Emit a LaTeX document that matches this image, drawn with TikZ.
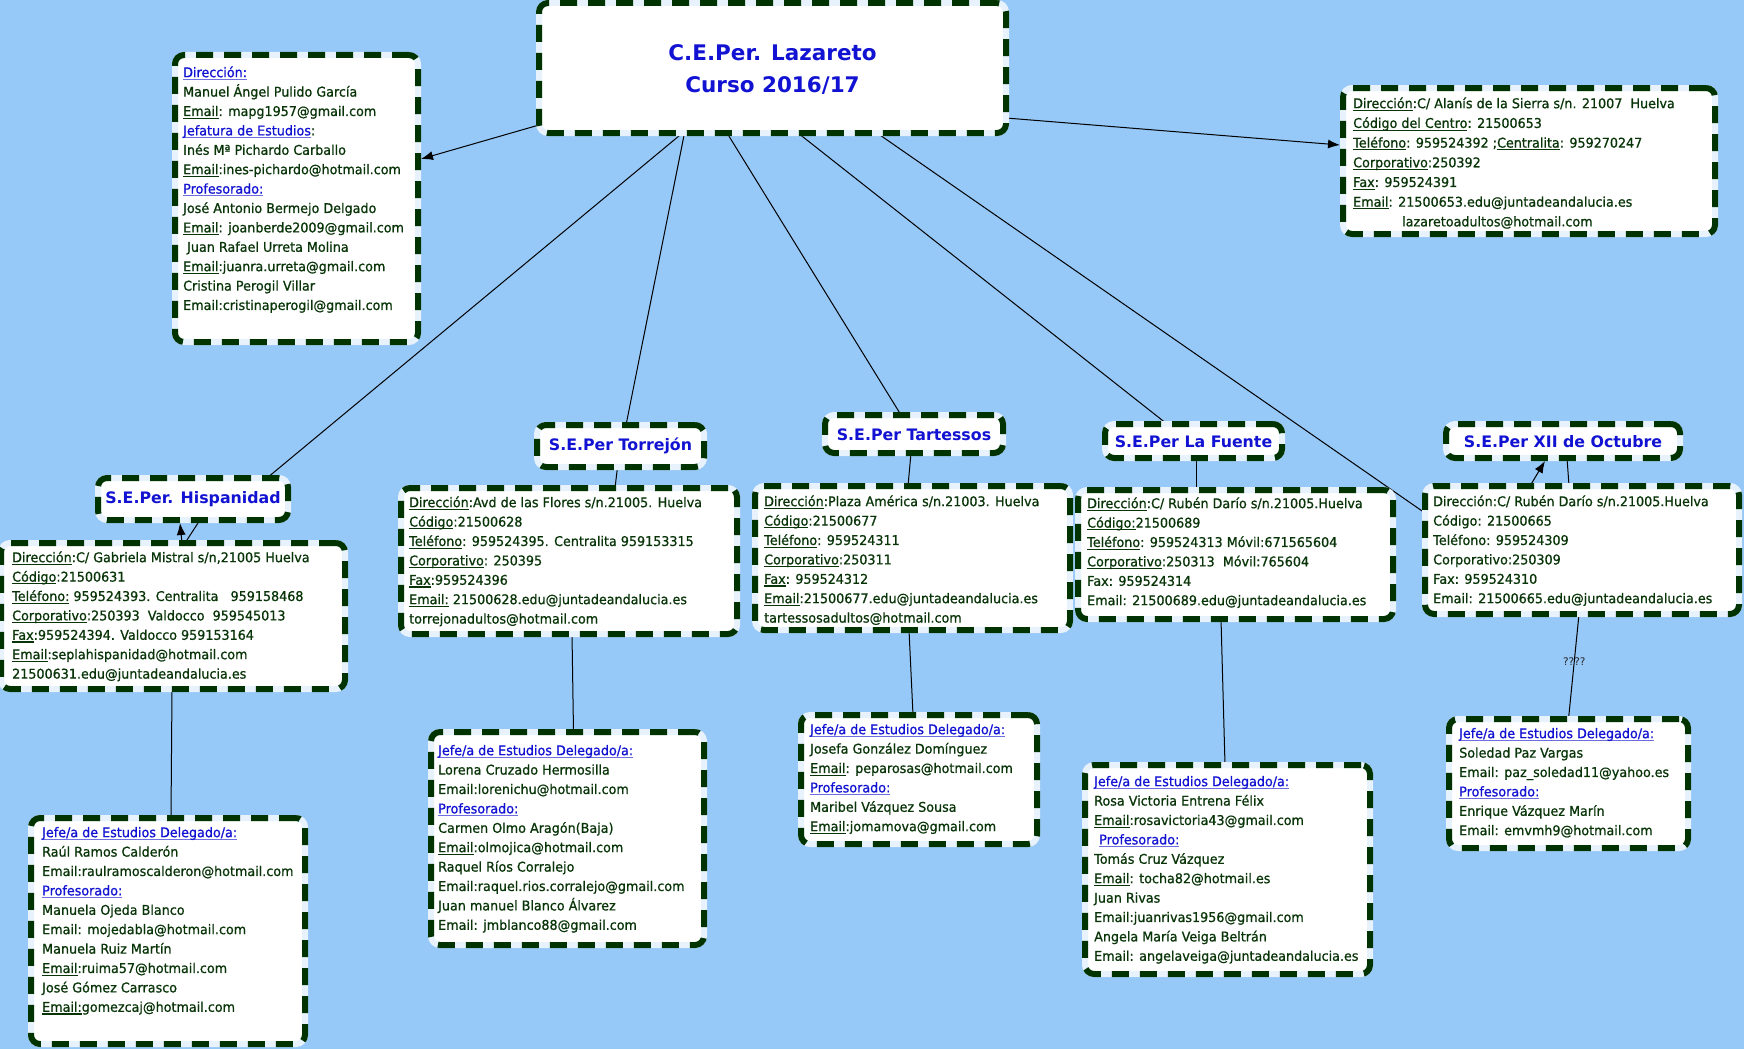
\documentclass[tikz,border=0pt]{standalone}
\usepackage{fontspec}
\setmainfont{DejaVu Sans}
\newfontfamily\bodyfont{DejaVu Sans}[FakeBold=0.8, FakeStretch=0.95]
\usetikzlibrary{arrows.meta,backgrounds}
\definecolor{bgblue}{RGB}{150,200,248}
\definecolor{bgreen}{RGB}{0,51,0}
\definecolor{tgreen}{RGB}{8,52,8}
\definecolor{hblue}{RGB}{18,18,210}
\definecolor{ulblue}{RGB}{110,110,225}
\definecolor{gapc}{RGB}{232,242,253}
\newsavebox\ulbox
\newcommand\lbl[1]{\sbox\ulbox{#1}\rlap{\textcolor{tgreen}{\rule[-2.8pt]{\wd\ulbox}{1.1pt}}}\usebox\ulbox}
\newcommand\hdr[1]{\sbox\ulbox{\textcolor{hblue}{#1}}\rlap{\textcolor{ulblue}{\rule[-2.8pt]{\wd\ulbox}{1.1pt}}}\usebox\ulbox}
\tikzset{
  box/.style={rectangle, rounded corners=9pt, fill=white, draw=gapc, line width=6pt,
    inner sep=0pt, outer sep=0pt,
    postaction={draw=bgreen, line width=6pt, rounded corners=9pt, dash pattern=on 17pt off 11pt}},
  txt/.style={anchor=north west, inner sep=0pt, align=left, text=tgreen,
    font=\bodyfont\fontsize{13.4}{19.4}\selectfont},
  ttl/.style={anchor=base, inner sep=0pt, text=hblue, font=\fontsize{15.8}{19}\selectfont\bfseries},
  conn/.style={draw=black, line width=1pt},
  arr/.style={conn, -{Latex[length=12pt,width=9pt]}}
}
\begin{document}
\begin{tikzpicture}[x=1pt,y=-1pt]
\useasboundingbox (0,0) rectangle (1744,1049);
% ---------- main box
\node[box, minimum width=467pt, minimum height=130pt] (top) at (772.5,68) {};
\node[anchor=north, inner sep=0pt, align=center, text=hblue,
  font=\fontsize{21.5}{32}\selectfont\bfseries] (topt) at (772.5,37.6)
  {\strut C.E.Per. Lazareto\\Curso 2016/17};
% ---------- direction box (left)
\node[box, minimum width=243pt, minimum height=287pt] (dir) at (296.5,198.5) {};
\node[txt] (dirt) at (183,63.4) {\strut\hdr{Dirección:}\\
Manuel Ángel Pulido García\\
\lbl{Email}: mapg1957@gmail.com\\
\hdr{Jefatura de Estudios}:\\
Inés Mª Pichardo Carballo\\
\lbl{Email}:ines-pichardo@hotmail.com\\
\hdr{Profesorado:}\\
José Antonio Bermejo Delgado\\
\lbl{Email}: joanberde2009@gmail.com\\
\hspace*{4pt}Juan Rafael Urreta Molina\\
\lbl{Email}:juanra.urreta@gmail.com\\
Cristina Perogil Villar\\
Email:cristinaperogil@gmail.com};
% ---------- info box (right)
\node[box, minimum width=372pt, minimum height=146pt] (info) at (1529,161) {};
\node[txt, font=\bodyfont\fontsize{13.4}{19.7}\selectfont] (infot) at (1353,94.2) {\strut\lbl{Dirección}:C/ Alanís de la Sierra s/n. 21007\ \ Huelva\\
\lbl{Código del Centro}: 21500653\\
\lbl{Teléfono}: 959524392 ;\lbl{Centralita}: 959270247\\
\lbl{Corporativo}:250392\\
\lbl{Fax}: 959524391\\
\lbl{Email}: 21500653.edu@juntadeandalucia.es\\
\hspace*{49pt}lazaretoadultos@hotmail.com};
% ---------- Hispanidad
\node[box, minimum width=190pt, minimum height=42pt] (hisT) at (193,499) {};
\node[ttl] (hisTt) at (193,503) {S.E.Per. Hispanidad};
\node[box, minimum width=344pt, minimum height=146pt] (hisI) at (173,616) {};
\node[txt] (hisIt) at (12,548.4) {\strut\lbl{Dirección}:C/ Gabriela Mistral s/n,21005 Huelva\\
\lbl{Código}:21500631\\
\lbl{Teléfono:} 959524393. Centralita\ \ \ 959158468\\
\lbl{Corporativo}:250393\ \ Valdocco\ \ 959545013\\
\lbl{Fax}:959524394. Valdocco 959153164\\
\lbl{Email}:seplahispanidad@hotmail.com\\
21500631.edu@juntadeandalucia.es};
\node[box, minimum width=274pt, minimum height=226pt] (hisJ) at (168,931) {};
\node[txt] (hisJt) at (42,823.4) {\strut\hdr{Jefe/a de Estudios Delegado/a:}\\
Raúl Ramos Calderón\\
Email:raulramoscalderon@hotmail.com\\
\hdr{Profesorado:}\\
Manuela Ojeda Blanco\\
Email: mojedabla@hotmail.com\\
Manuela Ruiz Martín\\
\lbl{Email}:ruima57@hotmail.com\\
José Gómez Carrasco\\
\lbl{Email:}gomezcaj@hotmail.com};
% ---------- Torrejon
\node[box, minimum width=167pt, minimum height=42pt] (torT) at (620.5,446) {};
\node[ttl] (torTt) at (620.5,450) {S.E.Per Torrejón};
\node[box, minimum width=336pt, minimum height=146pt] (torI) at (569,561) {};
\node[txt] (torIt) at (409,493.4) {\strut\lbl{Dirección}:Avd de las Flores s/n.21005. Huelva\\
\lbl{Código}:21500628\\
\lbl{Teléfono}: 959524395. Centralita 959153315\\
\lbl{Corporativo}: 250395\\
\lbl{Fax}:959524396\\
\lbl{Email:} 21500628.edu@juntadeandalucia.es\\
torrejonadultos@hotmail.com};
\node[box, minimum width=273pt, minimum height=213pt] (torJ) at (567.5,838.5) {};
\node[txt] (torJt) at (438,741.4) {\strut\hdr{Jefe/a de Estudios Delegado/a:}\\
Lorena Cruzado Hermosilla\\
Email:lorenichu@hotmail.com\\
\hdr{Profesorado:}\\
Carmen Olmo Aragón(Baja)\\
\lbl{Email}:olmojica@hotmail.com\\
Raquel Ríos Corralejo\\
Email:raquel.rios.corralejo@gmail.com\\
Juan manuel Blanco Álvarez\\
Email: jmblanco88@gmail.com};
% ---------- Tartessos
\node[box, minimum width=178pt, minimum height=38pt] (tarT) at (914,434) {};
\node[ttl] (tarTt) at (914,440) {S.E.Per Tartessos};
\node[box, minimum width=315pt, minimum height=144pt] (tarI) at (912.5,558) {};
\node[txt] (tarIt) at (764,492.4) {\strut\lbl{Dirección}:Plaza América s/n.21003. Huelva\\
\lbl{Código}:21500677\\
\lbl{Teléfono}: 959524311\\
\lbl{Corporativo}:250311\\
\lbl{Fax}: 959524312\\
\lbl{Email}:21500677.edu@juntadeandalucia.es\\
tartessosadultos@hotmail.com};
\node[box, minimum width=236pt, minimum height=129pt] (tarJ) at (919,779.5) {};
\node[txt] (tarJt) at (810,720.4) {\strut\hdr{Jefe/a de Estudios Delegado/a:}\\
Josefa González Domínguez\\
\lbl{Email}: peparosas@hotmail.com\\
\hdr{Profesorado:}\\
Maribel Vázquez Sousa\\
\lbl{Email}:jomamova@gmail.com};
% ---------- La Fuente
\node[box, minimum width=177pt, minimum height=34pt] (fueT) at (1193.5,441) {};
\node[ttl] (fueTt) at (1193.5,447) {S.E.Per La Fuente};
\node[box, minimum width=315pt, minimum height=129pt] (fueI) at (1235.5,554.5) {};
\node[txt] (fueIt) at (1087,494.4) {\strut\lbl{Dirección}:C/ Rubén Darío s/n.21005.Huelva\\
\lbl{Código:}21500689\\
\lbl{Teléfono}: 959524313 Móvil:671565604\\
\lbl{Corporativo}:250313\ \ Móvil:765604\\
Fax: 959524314\\
Email: 21500689.edu@juntadeandalucia.es};
\node[box, minimum width=285pt, minimum height=209pt] (fueJ) at (1227.5,869.5) {};
\node[txt] (fueJt) at (1094,772.4) {\strut\hdr{Jefe/a de Estudios Delegado/a:}\\
Rosa Victoria Entrena Félix\\
\lbl{Email}:rosavictoria43@gmail.com\\
\hspace*{5pt}\hdr{Profesorado:}\\
Tomás Cruz Vázquez\\
\lbl{Email}: tocha82@hotmail.es\\
Juan Rivas\\
Email:juanrivas1956@gmail.com\\
Angela María Veiga Beltrán\\
Email: angelaveiga@juntadeandalucia.es};
% ---------- XII de Octubre
\node[box, minimum width=234pt, minimum height=34pt] (xiiT) at (1563,441) {};
\node[ttl] (xiiTt) at (1563,447) {S.E.Per XII de Octubre};
\node[box, minimum width=314pt, minimum height=128pt] (xiiI) at (1582,550) {};
\node[txt] (xiiIt) at (1433,492.4) {\strut Dirección:C/ Rubén Darío s/n.21005.Huelva\\
Código: 21500665\\
Teléfono: 959524309\\
Corporativo:250309\\
Fax: 959524310\\
Email: 21500665.edu@juntadeandalucia.es};
\node[box, minimum width=239pt, minimum height=129pt] (xiiJ) at (1568.5,783.5) {};
\node[txt] (xiiJt) at (1459,724.4) {\strut\hdr{Jefe/a de Estudios Delegado/a:}\\
Soledad Paz Vargas\\
Email: paz\_soledad11@yahoo.es\\
\hdr{Profesorado:}\\
Enrique Vázquez Marín\\
Email: emvmh9@hotmail.com};
% ---------- connectors
\begin{scope}[on background layer]
\fill[bgblue] (0,0) rectangle (1744,1049);
\draw[arr] ([yshift=8pt]top.south west) -- ([xshift=3pt,yshift=-104pt]dir.north east);
\draw[arr] ([yshift=15pt]top.south east) -- ([xshift=-3pt,yshift=-57pt]info.north west);
\draw[conn] ([xshift=-90pt]top.south) -- ([xshift=74pt]hisT.north);
\draw[conn] ([xshift=-88pt]top.south) -- ([xshift=5.5pt]torT.north);
\draw[conn] ([xshift=-45.5pt]top.south) -- ([xshift=-13pt]tarT.north);
\draw[conn] ([xshift=25.5pt]top.south) -- ([xshift=-26.5pt]fueT.north);
\draw[conn] ([xshift=104.5pt]top.south) -- ([yshift=-27pt]xiiI.north west);
\draw[arr] ([xshift=9pt]hisI.north) -- ([xshift=-13pt,yshift=-3pt]hisT.south);
\draw[conn] ([xshift=12pt]hisI.north) -- ([xshift=7pt]hisT.south);
\draw[conn] ([xshift=-1pt]hisI.south) -- ([xshift=3pt]hisJ.north);
\draw[conn] ([xshift=-3pt]torT.south) -- ([xshift=46pt]torI.north);
\draw[conn] ([xshift=3pt]torI.south) -- ([xshift=6pt]torJ.north);
\draw[conn] ([xshift=-3pt]tarT.south) -- ([xshift=-4.5pt]tarI.north);
\draw[conn] ([xshift=-3.5pt]tarI.south) -- ([xshift=-6pt]tarJ.north);
\draw[conn] ([xshift=2.5pt]fueT.south) -- ([xshift=-39.5pt]fueI.north);
\draw[conn] ([xshift=-14.5pt]fueI.south) -- ([xshift=-2.5pt]fueJ.north);
\draw[conn] ([xshift=4pt]xiiT.south) -- ([xshift=-13pt]xiiI.north);
\draw[arr] ([xshift=-52pt]xiiI.north) -- ([xshift=-18pt,yshift=-3pt]xiiT.south);
\draw[conn] ([xshift=-3pt]xiiI.south) -- node[pos=0.45, inner sep=1pt,
  text=black!85, font=\fontsize{10.5}{12}\selectfont] (qq) {????} (xiiJ.north);
\end{scope}
\end{tikzpicture}
\end{document}
